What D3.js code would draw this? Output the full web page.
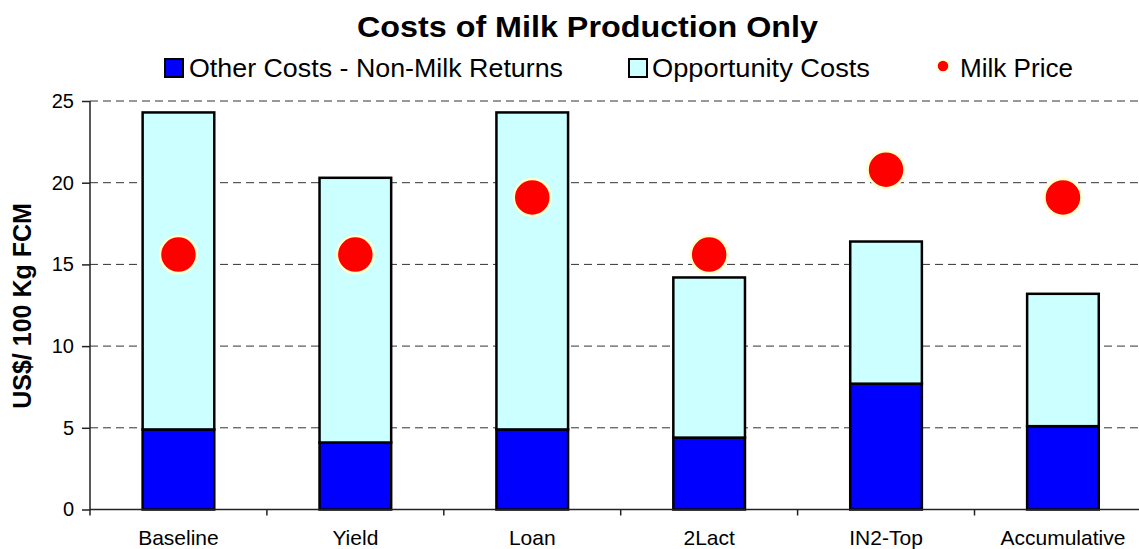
<!DOCTYPE html>
<html>
<head>
<meta charset="utf-8">
<script src="https://cdnjs.cloudflare.com/ajax/libs/d3/7.8.5/d3.min.js"></script>
<style>
  body { margin: 0; background: #fff; }
  text { font-family: Arial, "Liberation Sans", sans-serif; }
</style>
</head>
<body>
<div id="my_dataviz"></div>
<script>
// chart data
var categories = ["Baseline", "Yield", "Loan", "2Lact", "IN2-Top", "Accumulative"];
var otherCosts = [4.9, 4.1, 4.9, 4.4, 7.7, 5.1];
var opportunityCosts = [19.4, 16.2, 19.4, 9.8, 8.7, 8.1];
var milkPrice = [15.6, 15.6, 19.1, 15.6, 20.8, 19.1];
var yTicks = [0, 5, 10, 15, 20, 25];
var seriesNames = ["Other Costs - Non-Milk Returns", "Opportunity Costs", "Milk Price"];

var W = 1139, H = 549;
var margin = {top: 101, left: 90, bottom: 39.5};

var svg = d3.select("#my_dataviz")
  .append("svg")
    .attr("width", W)
    .attr("height", H);

// build the stacked table
var data = categories.map(function(c, i) {
  return {cat: c, other: otherCosts[i], opp: opportunityCosts[i], milk: milkPrice[i]};
});
var stack = d3.stack().keys(["other", "opp"]);
var series = stack(data);

// scales - plot runs off the right edge of the picture
var xcat = d3.scaleBand()
  .domain(categories)
  .range([margin.left, 1151.4]);

var xbar = d3.scaleBand()
  .domain(categories)
  .range([margin.left, 1151.4])
  .paddingInner(0.595)
  .paddingOuter(0.2975);

var y = d3.scaleLinear()
  .domain([0, 25])
  .range([H - margin.bottom, margin.top]);

var colors = {other: "#0000FF", opp: "#CCFFFF"};

// gridlines
svg.append("g")
  .selectAll("line")
  .data(yTicks.filter(function(d) { return d > 0; }))
  .enter().append("line")
    .attr("x1", margin.left)
    .attr("x2", W)
    .attr("y1", function(d) { return y(d); })
    .attr("y2", function(d) { return y(d); })
    .attr("stroke", "#333")
    .attr("stroke-width", 1)
    .attr("stroke-dasharray", "8,5");

// bars
svg.append("g")
  .selectAll("g")
  .data(series)
  .enter().append("g")
    .attr("fill", function(d) { return colors[d.key]; })
  .selectAll("rect")
  .data(function(d) { return d; })
  .enter().append("rect")
    .attr("x", function(d) { return xbar(d.data.cat); })
    .attr("y", function(d) { return y(d[1]); })
    .attr("width", xbar.bandwidth())
    .attr("height", function(d) { return y(d[0]) - y(d[1]); })
    .attr("stroke", "#000")
    .attr("stroke-width", 2.5);

// y axis
var yAxis = svg.append("g")
  .attr("transform", "translate(" + margin.left + ",0)")
  .call(d3.axisLeft(y).tickValues(yTicks).tickSize(8).tickPadding(8).tickFormat(d3.format("d")));
yAxis.select(".domain").attr("stroke", "#222").attr("stroke-width", 1.5)
  .attr("d", "M0," + y(25) + "V" + (y(0) + 6));
yAxis.selectAll(".tick line").attr("stroke", "#222").attr("stroke-width", 1.5);
yAxis.selectAll("text")
  .attr("fill", "#000")
  .style("font-size", "20px")
  .style("font-family", "Arial, 'Liberation Sans', sans-serif");

// x axis line and boundary ticks
svg.append("line")
  .attr("x1", margin.left).attr("x2", W)
  .attr("y1", y(0)).attr("y2", y(0))
  .attr("stroke", "#222").attr("stroke-width", 1.5);

svg.append("g")
  .selectAll("line")
  .data(categories.slice(1))
  .enter().append("line")
    .attr("x1", function(d) { return xcat(d); })
    .attr("x2", function(d) { return xcat(d); })
    .attr("y1", y(0))
    .attr("y2", y(0) + 6)
    .attr("stroke", "#222").attr("stroke-width", 1.5);

var xAxis = svg.append("g")
  .attr("transform", "translate(0," + y(0) + ")")
  .call(d3.axisBottom(xcat).tickSize(0).tickPadding(21));
xAxis.select(".domain").remove();
xAxis.selectAll("text")
  .attr("fill", "#000")
  .style("font-size", "21px")
  .style("font-family", "Arial, 'Liberation Sans', sans-serif");

// milk price dots
svg.append("g")
  .selectAll("circle")
  .data(data)
  .enter().append("circle")
    .attr("cx", function(d) { return xcat(d.cat) + xcat.bandwidth() / 2; })
    .attr("cy", function(d) { return y(d.milk); })
    .attr("r", 18.5)
    .attr("fill", "#FF0000")
    .attr("stroke", "#FFFFCC")
    .attr("stroke-width", 2.5);

// title
svg.append("text")
  .attr("x", 357)
  .attr("y", 37)
  .attr("textLength", 461)
  .attr("lengthAdjust", "spacingAndGlyphs")
  .style("font-size", "30px")
  .style("font-weight", "bold")
  .text("Costs of Milk Production Only");

// y axis title
svg.append("text")
  .attr("transform", "translate(31," + 306 + "), rotate(-90)")
  .style("text-anchor", "middle")
  .style("font-size", "25px")
  .style("font-weight", "bold")
  .text("US$/ 100 Kg FCM");

// legend
var legend = svg.append("g");
legend.append("rect")
  .attr("x", 165).attr("y", 59).attr("width", 18).attr("height", 18)
  .attr("fill", colors.other).attr("stroke", "#000").attr("stroke-width", 2);
legend.append("text")
  .attr("x", 189).attr("y", 77)
  .attr("textLength", 374).attr("lengthAdjust", "spacingAndGlyphs")
  .style("font-size", "25px")
  .text(seriesNames[0]);

legend.append("rect")
  .attr("x", 629).attr("y", 59).attr("width", 18).attr("height", 18)
  .attr("fill", colors.opp).attr("stroke", "#000").attr("stroke-width", 2);
legend.append("text")
  .attr("x", 652).attr("y", 77)
  .attr("textLength", 218).attr("lengthAdjust", "spacingAndGlyphs")
  .style("font-size", "25px")
  .text(seriesNames[1]);

legend.append("circle")
  .attr("cx", 943).attr("cy", 66).attr("r", 6)
  .attr("fill", "#FF0000").attr("stroke", "#FFFFCC").attr("stroke-width", 1.5);
legend.append("text")
  .attr("x", 960).attr("y", 77)
  .attr("textLength", 113).attr("lengthAdjust", "spacingAndGlyphs")
  .style("font-size", "25px")
  .text(seriesNames[2]);
</script>
</body>
</html>
